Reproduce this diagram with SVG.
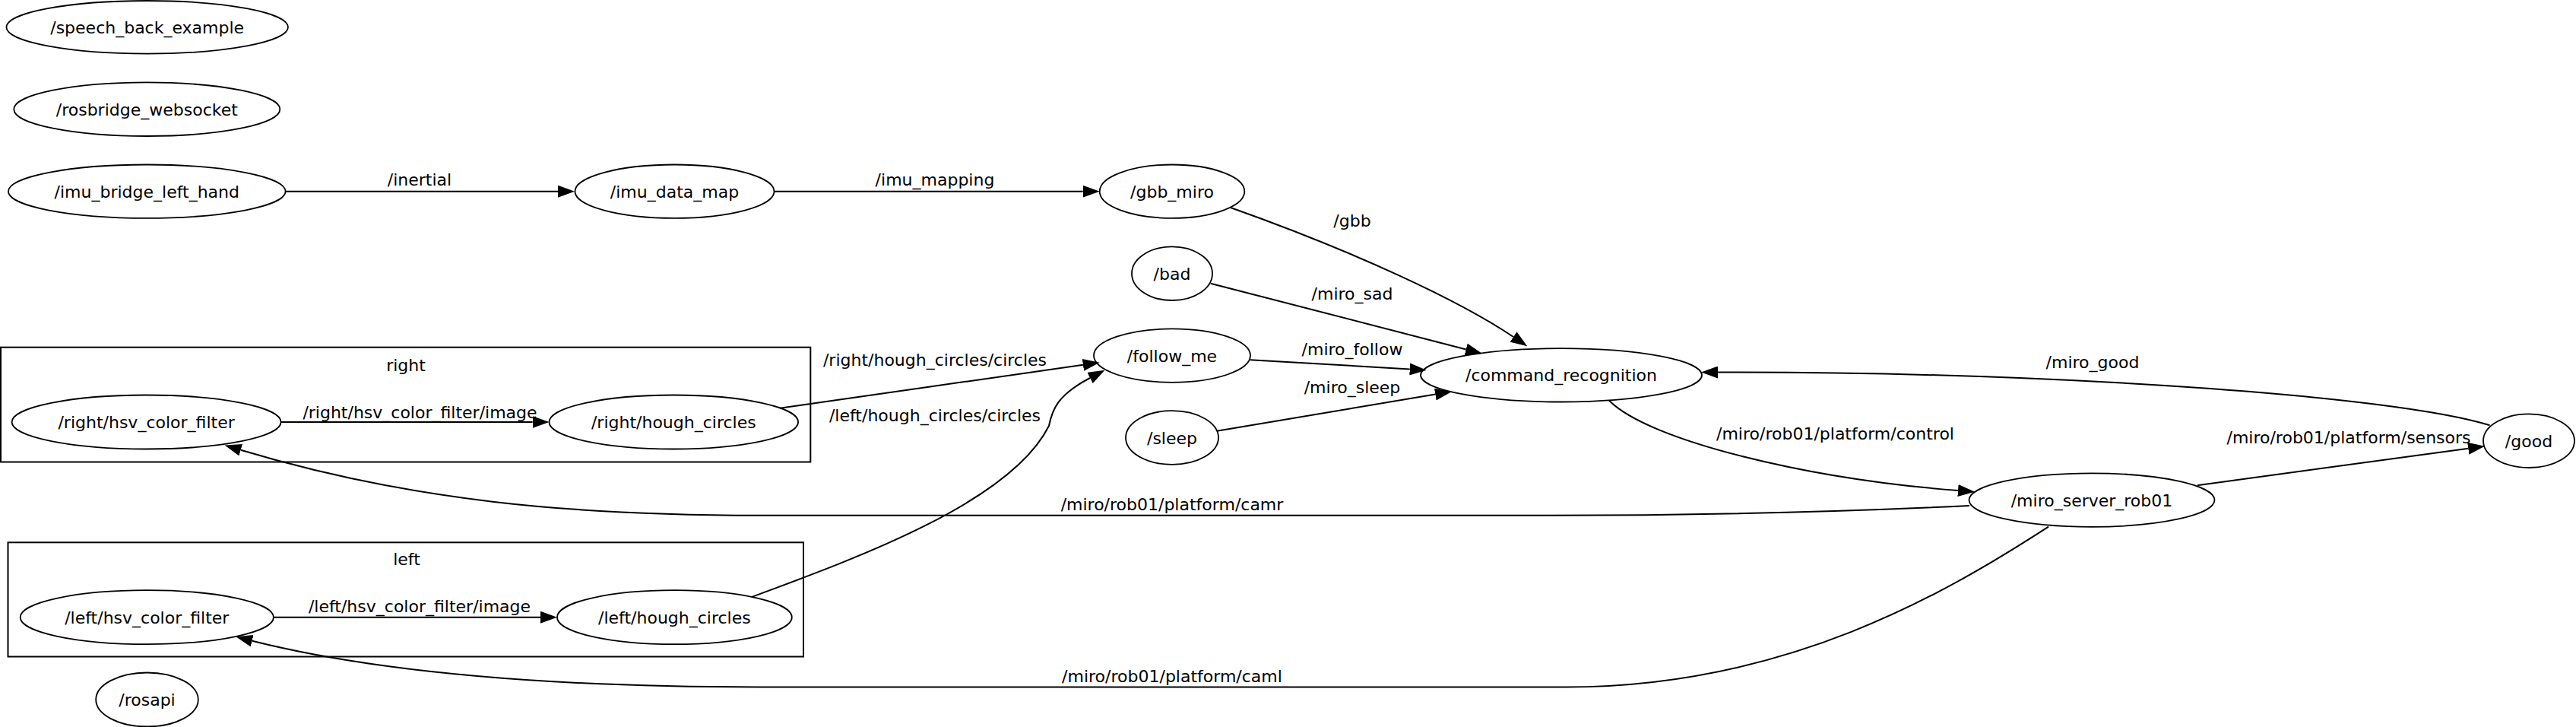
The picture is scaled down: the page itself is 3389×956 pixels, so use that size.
<svg xmlns="http://www.w3.org/2000/svg" width="3389" height="956" viewBox="0 0 3389 956">
<style>
text{font-family:"DejaVu Sans","Liberation Sans",sans-serif;font-size:22px;fill:#000;text-anchor:middle}
.n ellipse{fill:none;stroke:#000;stroke-width:1.8}
.cl rect{fill:none;stroke:#000;stroke-width:2}
.e path{fill:none;stroke:#000;stroke-width:2;marker-end:url(#ah)}
</style>
<defs>
<marker id="ah" markerUnits="userSpaceOnUse" viewBox="0 0 22 16" markerWidth="22" markerHeight="16" refX="0" refY="8" orient="auto">
<path d="M0,0 L22,8 L0,16 z" fill="#000"/>
</marker>
</defs>
<rect x="0" y="0" width="3389" height="956" fill="#fff"/>

<g id="cluster-right" class="cl">
<rect x="1" y="456.7" width="1065.3" height="150.8"/>
<text x="534" y="488">right</text>
</g>
<g id="cluster-left" class="cl">
<rect x="10.5" y="713.3" width="1046.5" height="150.2"/>
<text x="535" y="743.3">left</text>
</g>

<g id="edges" class="e">
<g id="e-inertial"><path d="M375.7,251.7 L734,251.7"/><text x="552" y="244">/inertial</text></g>
<g id="e-imu_mapping"><path d="M1018.6,251.7 L1424.7,251.7"/><text x="1230" y="244">/imu_mapping</text></g>
<g id="e-gbb"><path d="M1618.3,272.7 C1780,330 1920,395 1991,443"/><text x="1779" y="298">/gbb</text></g>
<g id="e-miro_sad"><path d="M1592.7,372.7 L1928.7,459.5"/><text x="1779" y="394">/miro_sad</text></g>
<g id="e-miro_follow"><path d="M1645,473.3 L1854.7,485.4"/><text x="1779" y="467">/miro_follow</text></g>
<g id="e-miro_sleep"><path d="M1601,566.7 L1888.3,518.6"/><text x="1779" y="517">/miro_sleep</text></g>
<g id="e-miro_good"><path d="M3275.5,559.3 C3150,520 2700,489 2260,489.5"/><text x="2753" y="484">/miro_good</text></g>
<g id="e-control"><path d="M2117,526.7 C2170,580 2380,630 2576,645"/><text x="2414.5" y="578">/miro/rob01/platform/control</text></g>
<g id="e-sensors"><path d="M2890.8,638.3 L3247.2,589.7"/><text x="3090" y="582.5">/miro/rob01/platform/sensors</text></g>
<g id="e-camr"><path d="M2591,665 C2400,674 2200,677.7 2040,677.7 L1000,677.7 C753,677.7 541,659 316.7,591.7"/><text x="1542" y="670.5">/miro/rob01/platform/camr</text></g>
<g id="e-caml"><path d="M2695,692.7 C2560,780 2350,903.5 2060,903.5 L1000,903.5 C820,903.5 540,895 331.7,842.7"/><text x="1542" y="896.5">/miro/rob01/platform/caml</text></g>
<g id="e-right-image"><path d="M369.7,555 L700.6,555"/><text x="552.5" y="549.5">/right/hsv_color_filter/image</text></g>
<g id="e-left-image"><path d="M359.3,811.7 L711,811.7"/><text x="552" y="805">/left/hsv_color_filter/image</text></g>
<g id="e-right-circles"><path d="M1026,536.7 L1424.9,479.8"/><text x="1230" y="481">/right/hough_circles/circles</text></g>
<g id="e-left-circles"><path d="M989,785 C1130,733 1330,660 1380,560 C1384,540 1390,520 1434,497"/><text x="1230" y="554">/left/hough_circles/circles</text></g>
</g>

<g id="node-speech_back_example" class="n"><ellipse cx="193.7" cy="35.8" rx="185.3" ry="34.8"/><text x="193.7" y="43.8">/speech_back_example</text></g>
<g id="node-rosbridge_websocket" class="n"><ellipse cx="193.3" cy="143.7" rx="175" ry="35.3"/><text x="193.3" y="151.7">/rosbridge_websocket</text></g>
<g id="node-imu_bridge_left_hand" class="n"><ellipse cx="193.3" cy="251.7" rx="182.3" ry="35.2"/><text x="193.3" y="259.7">/imu_bridge_left_hand</text></g>
<g id="node-imu_data_map" class="n"><ellipse cx="887.5" cy="251.7" rx="131" ry="35.2"/><text x="887.5" y="259.7">/imu_data_map</text></g>
<g id="node-gbb_miro" class="n"><ellipse cx="1542" cy="251.7" rx="95.3" ry="35.2"/><text x="1542" y="259.7">/gbb_miro</text></g>
<g id="node-bad" class="n"><ellipse cx="1542" cy="359.7" rx="53" ry="35.3"/><text x="1542" y="367.7">/bad</text></g>
<g id="node-follow_me" class="n"><ellipse cx="1542" cy="467.6" rx="103" ry="35.2"/><text x="1542" y="475.6">/follow_me</text></g>
<g id="node-sleep" class="n"><ellipse cx="1542" cy="575.5" rx="61" ry="35.4"/><text x="1542" y="583.5">/sleep</text></g>
<g id="node-command_recognition" class="n"><ellipse cx="2054" cy="493.3" rx="185" ry="35.2"/><text x="2054" y="501.3">/command_recognition</text></g>
<g id="node-good" class="n"><ellipse cx="3327" cy="579.7" rx="60" ry="35.3"/><text x="3327" y="587.7">/good</text></g>
<g id="node-miro_server_rob01" class="n"><ellipse cx="2752" cy="657.6" rx="161.5" ry="35.2"/><text x="2752" y="665.6">/miro_server_rob01</text></g>
<g id="node-right-hsv_color_filter" class="n"><ellipse cx="192.6" cy="555" rx="177" ry="35.5"/><text x="192.6" y="563">/right/hsv_color_filter</text></g>
<g id="node-right-hough_circles" class="n"><ellipse cx="886.3" cy="555" rx="163.8" ry="35.5"/><text x="886.3" y="563">/right/hough_circles</text></g>
<g id="node-left-hsv_color_filter" class="n"><ellipse cx="193.3" cy="811.7" rx="166.6" ry="35.5"/><text x="193.3" y="819.7">/left/hsv_color_filter</text></g>
<g id="node-left-hough_circles" class="n"><ellipse cx="887.4" cy="811.7" rx="154.4" ry="35.5"/><text x="887.4" y="819.7">/left/hough_circles</text></g>
<g id="node-rosapi" class="n"><ellipse cx="193.5" cy="920" rx="67.3" ry="35.5"/><text x="193.5" y="928">/rosapi</text></g>
</svg>
